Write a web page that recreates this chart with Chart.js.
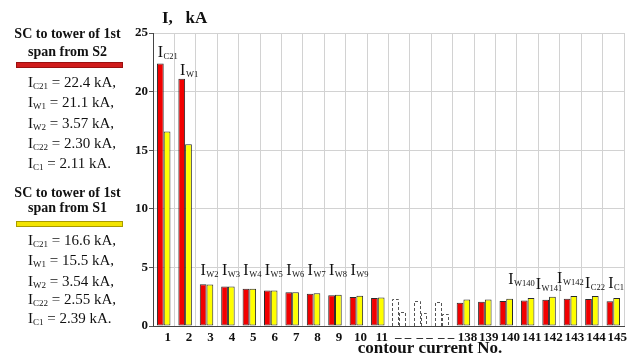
<!DOCTYPE html>
<html>
<head>
<meta charset="utf-8">
<script src="https://cdn.jsdelivr.net/npm/chart.js@4/dist/chart.umd.min.js"></script>
<style>
  html, body { margin: 0; padding: 0; background: #fff; }
  #wrap { position: relative; width: 631px; height: 361px; overflow: hidden; font-family: "Liberation Serif", "Times New Roman", serif; color: #111; }
  #chart { position: absolute; left: 0; top: 0; }
  .head { position: absolute; left: 0; width: 135px; text-align: center; font-weight: bold; font-size: 14px; line-height: 18px; white-space: nowrap; }
  .row { position: absolute; left: 28px; font-size: 15px; line-height: 20px; white-space: nowrap; }
  .row span { font-size: 9px; line-height: 1; vertical-align: -2px; }
  .swatch { position: absolute; left: 16px; width: 105px; height: 4px; }
</style>
</head>
<body>
<div id="wrap">
  <canvas id="chart" width="631" height="361"></canvas>
  <div id="panel"></div>
</div>
<script>
// Contour numbers shown on the axis
const contourNos = ['1', '2', '3', '4', '5', '6', '7', '8', '9', '10', '11'];
const tailNos = ['138', '139', '140', '141', '142', '143', '144', '145'];
const gapMark = '\u2013 \u2013';

// Currents (kA), short circuit at tower of 1st span fed from S2
const headS2 = [22.4, 21.1, 3.57, 3.38, 3.17, 3.02, 2.88, 2.76, 2.63, 2.47, 2.38];
const skippedS2 = [2.28, 2.16, 2.05];
const tailS2 = [1.99, 2.07, 2.13, 2.18, 2.25, 2.33, 2.30, 2.11];

// Currents (kA), short circuit at tower of 1st span fed from S1
const headS1 = [16.6, 15.5, 3.54, 3.38, 3.17, 3.02, 2.88, 2.80, 2.67, 2.58, 2.44];
const skippedS1 = [1.17, 1.08, 1.05];
const tailS1 = [2.27, 2.27, 2.33, 2.39, 2.50, 2.56, 2.55, 2.39];

const yTicks = [0, 5, 10, 15, 20, 25];

// Current names written over the bars: [contour No., subscript]
const tagNames = [
  ['1', 'C21'], ['2', 'W1'], ['3', 'W2'], ['4', 'W3'], ['5', 'W4'], ['6', 'W5'],
  ['7', 'W6'], ['8', 'W7'], ['9', 'W8'], ['10', 'W9'],
  ['140', 'W140'], ['141', 'W141'], ['142', 'W142'], ['144', 'C22'], ['145', 'C1']
];
// Currents listed in the side panel: [subscript, contour No.]
const summaryNames = [['C21', '1'], ['W1', '2'], ['W2', '3'], ['C22', '144'], ['C1', '145']];

// ---- layout / style ----
const tagPlace = {
  '1': [22.95, -6], '2': [21.42, -5], '3': [4.35, -6], '4': [4.35, -6], '5': [4.35, -6],
  '6': [4.35, -6], '7': [4.35, -6], '8': [4.35, -6], '9': [4.35, -6], '10': [4.35, -6],
  '140': [3.58, 2], '141': [3.16, 8], '142': [3.67, 8], '144': [3.24, -7], '145': [3.24, -5]
};
const SERIF = '"Liberation Serif", "Times New Roman", serif';
const RED = '#f20000', YELLOW = '#ffff00', EDGE = '#2a2a2a';

const labels = contourNos.concat(skippedS2.map(() => gapMark), tailNos);
const keys = contourNos.concat(skippedS2.map((_, i) => 'gap' + i), tailNos);
const dataS2 = headS2.concat(skippedS2, tailS2);
const dataS1 = headS1.concat(skippedS1, tailS1);
const gapStart = contourNos.length, gapEnd = gapStart + skippedS2.length;
const isGap = i => i >= gapStart && i < gapEnd;

const fmt = v => (v >= 10 ? v.toFixed(1) : v.toFixed(2));

// side panel
(function buildPanel() {
  const panel = document.getElementById('panel');
  const blocks = [
    { src: 'S2', data: dataS2, head: [25.3, 43.3], bar: 62, fill: '#d01c1c', edge: '#9a1010', rows: [72.4, 92, 113, 133, 153] },
    { src: 'S1', data: dataS1, head: [183.5, 198.5], bar: 220.5, fill: '#f3e400', edge: '#a89a00', rows: [230, 250, 271, 289, 308] }
  ];
  blocks.forEach(b => {
    const h1 = document.createElement('div');
    h1.className = 'head'; h1.style.top = b.head[0] + 'px';
    h1.textContent = 'SC to tower of 1st';
    const h2 = document.createElement('div');
    h2.className = 'head'; h2.style.top = b.head[1] + 'px';
    h2.textContent = 'span from ' + b.src;
    const sw = document.createElement('div');
    sw.className = 'swatch'; sw.style.top = b.bar + 'px';
    sw.style.background = b.fill; sw.style.border = '1px solid ' + b.edge;
    panel.append(h1, h2, sw);
    summaryNames.forEach(([sub, no], k) => {
      const v = b.data[keys.indexOf(no)];
      const r = document.createElement('div');
      r.className = 'row'; r.style.top = b.rows[k] + 'px';
      const end = k === summaryNames.length - 1 ? ' kA.' : ' kA,';
      r.innerHTML = 'I<span>' + sub + '</span> = ' + fmt(v) + end;
      panel.append(r);
    });
  });
})();

const overlay = {
  id: 'overlay',
  afterDatasetsDraw(chart) {
    const ctx = chart.ctx;
    const xs = chart.scales.x, ys = chart.scales.y;
    // omitted contours: dashed outlines
    ctx.save();
    ctx.setLineDash([3, 2]);
    ctx.strokeStyle = '#555';
    ctx.lineWidth = 1;
    chart.data.datasets.forEach((ds, di) => {
      const meta = chart.getDatasetMeta(di);
      meta.data.forEach((bar, i) => {
        if (!isGap(i)) return;
        const p = bar.getProps(['x', 'y', 'base', 'width'], true);
        const l = Math.round(p.x - p.width / 2) + 0.5, r = Math.round(p.x + p.width / 2) - 0.5;
        const t = Math.round(p.y) + 0.5, b = Math.round(p.base);
        ctx.beginPath();
        ctx.moveTo(l, b); ctx.lineTo(l, t); ctx.lineTo(r, t); ctx.lineTo(r, b);
        ctx.stroke();
      });
    });
    ctx.restore();

    // current names over the bars
    ctx.save();
    ctx.fillStyle = '#111';
    ctx.textAlign = 'left';
    ctx.textBaseline = 'alphabetic';
    tagNames.forEach(([no, sub]) => {
      const [lvl, dx] = tagPlace[no];
      const x = xs.getPixelForValue(keys.indexOf(no)) + dx;
      const y = ys.getPixelForValue(lvl);
      ctx.font = '16px ' + SERIF;
      ctx.fillText('I', x, y);
      const w = ctx.measureText('I').width;
      ctx.font = '8.5px ' + SERIF;
      ctx.fillText(sub, x + w + 0.5, y + 2);
    });

    // axis titles
    const a = chart.chartArea;
    ctx.font = 'bold 17px ' + SERIF;
    ctx.fillText('I,   kA', a.left + 9, a.top - 10);
    ctx.textAlign = 'center';
    ctx.fillText('contour current No.', a.left + 277, a.bottom + 27);
    ctx.restore();
  }
};

new Chart(document.getElementById('chart'), {
  type: 'bar',
  data: {
    labels: labels,
    datasets: [
      {
        data: dataS2,
        backgroundColor: c => (isGap(c.dataIndex) ? 'rgba(0,0,0,0)' : RED),
        borderColor: EDGE,
        borderWidth: c => (isGap(c.dataIndex) ? 0 : 1),
        borderSkipped: false
      },
      {
        data: dataS1,
        backgroundColor: c => (isGap(c.dataIndex) ? 'rgba(0,0,0,0)' : YELLOW),
        borderColor: EDGE,
        borderWidth: c => (isGap(c.dataIndex) ? 0 : 1),
        borderSkipped: false
      }
    ]
  },
  options: {
    responsive: false,
    animation: false,
    devicePixelRatio: 1,
    layout: { padding: { left: 128, right: 7, top: 33, bottom: 0 } },
    datasets: { bar: { categoryPercentage: 0.63, barPercentage: 1.0 } },
    plugins: { legend: { display: false }, title: { display: false }, tooltip: { enabled: false } },
    scales: {
      x: {
        grid: { color: '#d2d2d2', lineWidth: 1, offset: true, drawTicks: false },
        border: { color: '#444', width: 1 },
        ticks: {
          autoSkip: false, maxRotation: 0, padding: 4, labelOffset: 4,
          color: '#111', font: { family: SERIF, size: 13, weight: 'bold' }
        },
        afterFit: s => { s.height = 35; }
      },
      y: {
        min: 0, max: 25,
        afterBuildTicks: s => { s.ticks = yTicks.map(v => ({ value: v })); },
        grid: { color: '#d2d2d2', lineWidth: 1, tickLength: 4, tickColor: '#555' },
        border: { color: '#444', width: 1 },
        ticks: { padding: 1, color: '#111', font: { family: SERIF, size: 13, weight: 'bold' } },
        afterFit: s => { s.width = 25; }
      }
    }
  },
  plugins: [overlay]
});
</script>
</body>
</html>
